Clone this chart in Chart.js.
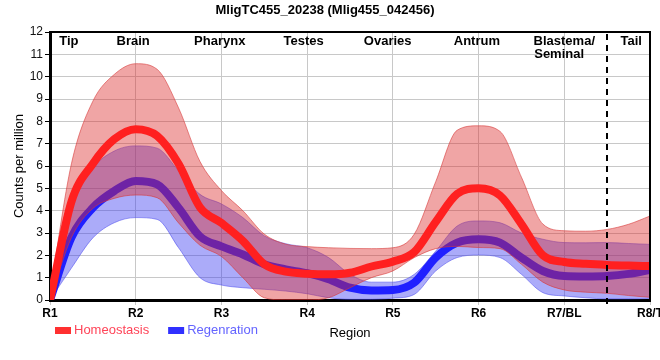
<!DOCTYPE html>
<html>
<head>
<meta charset="utf-8">
<script src="https://cdn.jsdelivr.net/npm/chart.js@4"></script>
<style>
  html, body { margin: 0; padding: 0; background: #fff; }
  #wrap { width: 660px; height: 360px; }
</style>
</head>
<body>
<div id="wrap"><canvas id="myChart" width="660" height="360"></canvas></div>
<script>
// x axis
var regionTicks = ['R1','R2','R3','R4','R5','R6','R7/BL','R8/T'];
var regionNames = ['Tip','Brain','Pharynx','Testes','Ovaries','Antrum','Blastema/','Seminal','Tail'];
var regionNameX = [1.22, 1.97, 2.98, 3.96, 4.94, 5.98, 7.0, 6.94, 7.78];
var regionNameY = [11.6, 11.6, 11.6, 11.6, 11.6, 11.6, 11.6, 11.0, 11.6];
var dividerAt = 7.5;

// sample positions along the worm
var sampleX = [1,1.25,1.5,1.75,2,2.25,2.5,2.75,3,3.25,3.5,3.75,4,4.25,4.5,4.75,
               5,5.25,5.5,5.75,6,6.25,6.5,6.75,7,7.25,7.5,7.75,8];

var homeoMean = [0,4.4,6.1,7.2,7.65,7.35,6.1,4.15,3.45,2.65,1.6,1.27,1.18,1.15,1.22,1.5,
                 1.72,2.15,3.5,4.75,5.0,4.68,3.4,2.0,1.7,1.62,1.57,1.54,1.52];
var homeoHigh = [0.3,6.1,8.9,10.1,10.58,10.33,8.6,6.2,4.9,4.0,2.95,2.5,2.39,2.34,2.31,2.3,
                 2.34,2.95,5.3,7.6,7.8,7.55,5.5,3.4,3.1,3.08,3.16,3.39,3.76];
var homeoLow  = [0,2.8,4.1,4.55,4.7,4.58,3.45,2.45,1.95,1.0,0.1,0,0,0.1,0.55,1.0,
                 1.3,1.9,2.3,2.4,2.35,2.3,1.6,0.8,0.45,0.35,0.3,0.2,0.12];

var regenMean = [0,2.8,4.13,4.88,5.33,5.18,4.13,2.85,2.4,2.04,1.6,1.37,1.2,0.93,0.55,0.43,
                 0.45,0.78,1.9,2.57,2.72,2.57,1.9,1.3,1.07,1.05,1.07,1.17,1.35];
var regenHigh = [0,4.1,5.9,6.67,6.9,6.8,5.78,4.73,4.3,3.69,2.87,2.52,2.34,1.9,1.15,0.8,
                 0.8,1.15,2.19,3.31,3.54,3.46,3.0,2.72,2.57,2.56,2.57,2.53,2.49];
var regenLow  = [0,1.43,2.78,3.46,3.69,3.61,2.34,1.0,0.67,0.55,0.48,0.4,0.28,0.1,0.03,0.03,
                 0.08,0.25,1.3,1.9,2.01,1.9,1.15,0.33,0.18,0.1,0.05,0.05,0.07];

function pts(vals) {
  return vals.map(function (v, i) { return { x: sampleX[i], y: v }; });
}

var FONT = '"Liberation Sans", Arial, sans-serif';

var legendItems = [
  { text: 'Homeostasis', box: '#ff3030', color: '#ff4458' },
  { text: 'Regenration', box: '#3030ff', color: '#6464ff' }
];

// region names, divider, frame and legend
var extras = {
  id: 'extras',
  afterDatasetsDraw: function (chart) {
    var ctx = chart.ctx, a = chart.chartArea;
    var x = chart.scales.x, y = chart.scales.y;
    ctx.save();
    ctx.strokeStyle = '#000';
    ctx.lineWidth = 2;
    ctx.setLineDash([6, 5]);
    var xd = Math.round(x.getPixelForValue(dividerAt));
    ctx.beginPath();
    ctx.moveTo(xd, a.top + 2);
    ctx.lineTo(xd, a.bottom + 6);
    ctx.stroke();
    ctx.setLineDash([]);
    ctx.beginPath();
    ctx.moveTo(a.left, a.top);
    ctx.lineTo(a.right, a.top);
    ctx.lineTo(a.right, a.bottom);
    ctx.stroke();

    ctx.fillStyle = '#000';
    ctx.font = 'bold 13px ' + FONT;
    ctx.textAlign = 'center';
    ctx.textBaseline = 'middle';
    for (var i = 0; i < regionNames.length; i++) {
      ctx.fillText(regionNames[i], x.getPixelForValue(regionNameX[i]), y.getPixelForValue(regionNameY[i]));
    }

    // legend
    ctx.font = '13px ' + FONT;
    ctx.textAlign = 'left';
    var lx = 55, ly = 330;
    legendItems.forEach(function (it) {
      ctx.fillStyle = it.box;
      ctx.fillRect(lx, ly - 3, 16, 7);
      ctx.fillStyle = it.color;
      ctx.fillText(it.text, lx + 19, ly);
      lx += 19 + ctx.measureText(it.text).width + 19;
    });
    ctx.restore();
  }
};

var redBand = 'rgba(220,40,40,0.42)';
var redEdge = 'rgba(215,60,60,0.6)';
var blueBand = 'rgba(55,55,240,0.42)';
var blueEdge = 'rgba(70,70,235,0.5)';

var ctx = document.getElementById('myChart').getContext('2d');
var myChart = new Chart(ctx, {
  type: 'line',
  data: {
    datasets: [
      { label: 'Homeostasis', data: pts(homeoMean), borderColor: '#ff2020', borderWidth: 8, fill: false },
      { label: 'Homeostasis high', data: pts(homeoHigh), borderColor: redEdge, borderWidth: 1,
        backgroundColor: redBand, fill: '+1' },
      { label: 'Homeostasis low', data: pts(homeoLow), borderColor: redEdge, borderWidth: 1, fill: false },
      { label: 'Regenration', data: pts(regenMean), borderColor: '#2020ff', borderWidth: 8, fill: false },
      { label: 'Regenration high', data: pts(regenHigh), borderColor: blueEdge, borderWidth: 1,
        backgroundColor: blueBand, fill: '+1' },
      { label: 'Regenration low', data: pts(regenLow), borderColor: blueEdge, borderWidth: 1, fill: false }
    ]
  },
  options: {
    responsive: false,
    animation: false,
    layout: { padding: { left: 0, right: 10, top: 0, bottom: 19 } },
    elements: {
      point: { radius: 0, hoverRadius: 0 },
      line: { cubicInterpolationMode: 'monotone', borderCapStyle: 'butt', borderJoinStyle: 'round' }
    },
    plugins: {
      legend: { display: false },
      tooltip: { enabled: false },
      title: {
        display: true,
        text: 'MligTC455_20238 (Mlig455_042456)',
        color: '#000',
        font: { family: FONT, size: 13, weight: 'bold' },
        padding: { top: 3, bottom: 13.4 }
      }
    },
    scales: {
      x: {
        type: 'linear',
        min: 1,
        max: 8,
        afterFit: function (s) { s.paddingRight = 0; },
        ticks: {
          stepSize: 1,
          autoSkip: false,
          maxRotation: 0,
          padding: 1,
          color: '#000',
          font: { family: FONT, size: 12, weight: 'bold' },
          callback: function (v) { return regionTicks[v - 1]; }
        },
        grid: { color: '#c8c8c8', lineWidth: 1, tickLength: 5 },
        border: { color: '#000', width: 3 },
        title: {
          display: true,
          text: 'Region',
          color: '#000',
          font: { family: FONT, size: 13 },
          padding: { top: 4, bottom: 0 }
        }
      },
      y: {
        min: 0,
        max: 12,
        afterFit: function (s) { s.width = 50; },
        ticks: {
          stepSize: 1,
          padding: 2,
          color: '#111',
          font: { family: FONT, size: 12 }
        },
        grid: { color: '#c8c8c8', lineWidth: 1, tickLength: 5, tickColor: '#000' },
        border: { color: '#000', width: 3 },
        title: {
          display: true,
          text: 'Counts per million',
          color: '#000',
          font: { family: FONT, size: 13 },
          padding: { top: 12, bottom: 0 }
        }
      }
    }
  },
  plugins: [extras]
});
</script>
</body>
</html>
